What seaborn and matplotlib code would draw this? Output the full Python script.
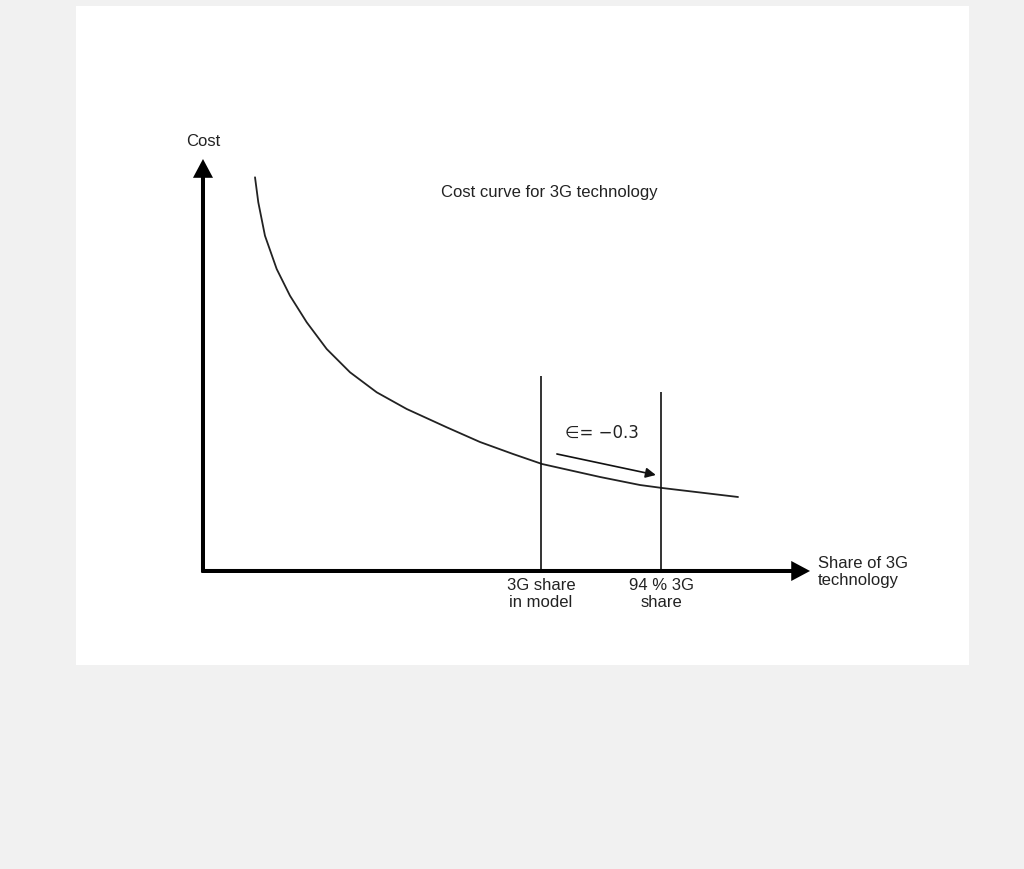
import matplotlib
matplotlib.use("Agg")
import matplotlib.pyplot as plt
import seaborn as sns
import pandas as pd

# ---- data (schematic units: share 0-100, cost 0-100) ----
share = [8.57, 9.11, 10.21, 12.14, 14.33, 17.09, 20.38, 24.22, 28.62, 33.56,
         40.15, 45.63, 51.07, 55.85, 65.40, 71.99, 75.62, 88.14]
cost = [95.56, 89.49, 81.38, 73.30, 66.82, 60.36, 53.88, 48.23, 43.37, 39.32,
        34.88, 31.31, 28.40, 25.97, 22.82, 20.87, 20.15, 17.96]

marker_x = [55.7, 75.5]
marker_top = [47.3, 43.5]
marker_labels = ["3G share\nin model", "94 % 3G\nshare"]

elasticity_label = "\u2208= \u22120.3"
elast_arrow_start = (58.3, 28.4)
elast_arrow_end = (74.6, 23.3)

title = "Cost curve for 3G technology"
y_label = "Cost"
x_label = "Share of 3G\ntechnology"

sns.set_theme(style="white")
plt.rcParams["font.family"] = ["Liberation Sans", "DejaVu Sans"]

fig = plt.figure(figsize=(10.24, 8.70), dpi=100, facecolor="#f1f1f1")
ax = fig.add_axes([76 / 1024, (870 - 666) / 870, 893 / 1024, 659 / 870])
ax.set_facecolor("white")
for s in ax.spines.values():
    s.set_visible(False)
ax.set_xticks([])
ax.set_yticks([])
ax.set_xlim(-20.92, 126.19)
ax.set_ylim(-22.82, 137.14)

df = pd.DataFrame({"share": share, "cost": cost})
line_ax = sns.lineplot(data=df, x="share", y="cost", ax=ax, color="#222222",
                       linewidth=1.3, sort=False)
for ln in line_ax.lines:
    ln.set_solid_joinstyle("round")
ax.set_xlabel("")
ax.set_ylabel("")

# vertical marker lines
ax.vlines(marker_x, [0, 0], marker_top, colors="#111111", linewidth=1.2)
for mx, lab in zip(marker_x, marker_labels):
    ax.text(mx, -1.4, lab, ha="center", va="top", fontsize=12, color="#222222",
            linespacing=1.22)

# axes with arrows
axis_arrow = dict(arrowstyle="-|>,head_length=0.45,head_width=0.24",
                  mutation_scale=20, lw=2.9, color="black",
                  shrinkA=0, shrinkB=0, joinstyle="miter", capstyle="butt")
ax.annotate("", xy=(0, 100), xytext=(0, -0.35), arrowprops=axis_arrow)
ax.annotate("", xy=(100, 0), xytext=(-0.25, 0), arrowprops=axis_arrow)

# elasticity arrow
ax.annotate("", xy=elast_arrow_end, xytext=elast_arrow_start,
            arrowprops=dict(arrowstyle="-|>,head_length=0.4,head_width=0.2",
                            mutation_scale=15, lw=1.2, color="#111111",
                            shrinkA=0, shrinkB=0))
ax.text(59.6, 33.7, elasticity_label, ha="left", va="center", fontsize=12,
        color="#222222", family=["DejaVu Sans"])

ax.text(57.0, 92.0, title, ha="center", va="center", fontsize=12, color="#222222")
ax.text(0, 104.4, y_label, ha="center", va="center", fontsize=12, color="#222222")
ax.text(101.3, 0.0, x_label, ha="left", va="center", fontsize=12, color="#222222",
        linespacing=1.22)

fig.savefig("out.png", dpi=100, facecolor=fig.get_facecolor())
